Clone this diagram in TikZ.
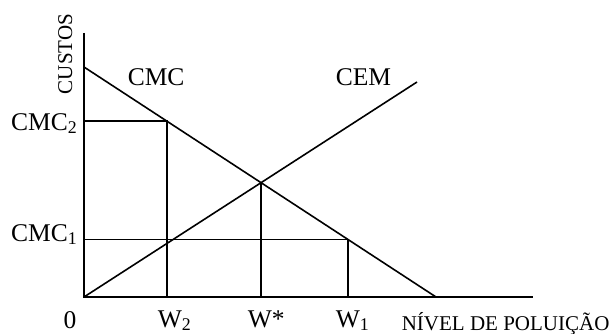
\documentclass[tikz,border=0pt]{standalone}
\usepackage{fontspec}
\setmainfont{Liberation Serif}
\usetikzlibrary{calc}

\begin{document}
\begin{tikzpicture}[x=1pt,y=-1pt,line width=1.6pt,
  lbl/.style={inner sep=0pt,font=\fontsize{25.5}{25.5}\selectfont},
  axislbl/.style={inner sep=0pt,font=\fontsize{21}{21}\selectfont}]
\useasboundingbox (0,0) rectangle (612,334);

% axes and curves
\coordinate (O) at (84,297);
\coordinate (ytop) at (84,33);
\coordinate (xend) at (533,297);
\coordinate (cmcA) at (84,67);
\coordinate (cmcB) at (436,297);
\coordinate (cemB) at (417,82);
\coordinate (E) at (intersection of cmcA--cmcB and O--cemB);
\coordinate (A2) at ($(cmcA)!0.2358!(cmcB)$);
\coordinate (A1) at ($(cmcA)!0.75!(cmcB)$);

\draw (ytop) -- (O) -- (xend);
\draw (cmcA) -- (cmcB);
\draw (O) -- (cemB);

% reference lines
\draw (A2 -| O) -- (A2) -- (A2 |- O);
\draw (A1 -| O) -- (A1) -- (A1 |- O);
\draw (E) -- (E |- O);

% labels
\node[axislbl,rotate=90,anchor=base] (custos) at (72,54) {CUSTOS};
\node[lbl,anchor=base west] (cmc) at (127,86) {CMC};
\node[lbl,anchor=base west] (cem) at (335,86) {CEM};
\node[lbl,anchor=base east] (cmc2) at (78,130) {CMC\textsubscript{2}};
\node[lbl,anchor=base east] (cmc1) at (78,241) {CMC\textsubscript{1}};
\node[lbl,anchor=base] (zero) at (70,328) {0};
\node[lbl,anchor=base west] (w2) at (157,327) {W\textsubscript{2}};
\node[lbl,anchor=base west] (wstar) at (247,327) {W*};
\node[lbl,anchor=base west] (w1) at (335,327) {W\textsubscript{1}};
\node[axislbl,anchor=base west] (nivel) at (401,330) {NÍVEL DE POLUIÇÃO};
\end{tikzpicture}
\end{document}
